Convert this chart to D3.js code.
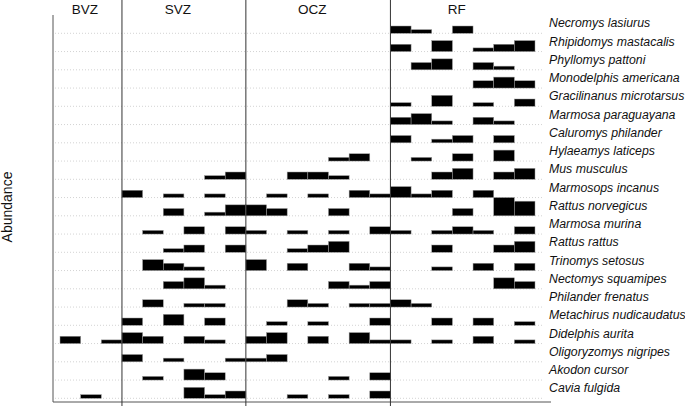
<!DOCTYPE html>
<html>
<head>
<meta charset="utf-8">
<script src="https://cdn.jsdelivr.net/npm/d3@7"></script>
<style>
  body { margin: 0; background: #fff; }
  svg { display: block; font-family: "Liberation Sans", Arial, sans-serif; }
  .grid { stroke: #c8c8c8; stroke-dasharray: 1,2; stroke-width: 0.8; }
  .species_label { font-style: italic; font-size: 12.3px; fill: #111; }
  .zone_label { font-size: 13.5px; fill: #111; text-anchor: middle; }
</style>
</head>
<body>
<div class="chart"></div>
<script>
const species = [
  "Necromys lasiurus", "Rhipidomys mastacalis", "Phyllomys pattoni", "Monodelphis americana",
  "Gracilinanus microtarsus", "Marmosa paraguayana", "Caluromys philander", "Hylaeamys laticeps",
  "Mus musculus", "Marmosops incanus", "Rattus norvegicus", "Marmosa murina", "Rattus rattus",
  "Trinomys setosus", "Nectomys squamipes", "Philander frenatus", "Metachirus nudicaudatus",
  "Didelphis aurita", "Oligoryzomys nigripes", "Akodon cursor", "Cavia fulgida"
]

const zones = ["BVZ", "SVZ", "OCZ", "RF"]
const zoneSites = [3, 6, 7, 7]

// abundance per site (columns: BVZ 3 | SVZ 6 | OCZ 7 | RF 7)
const abundance = [
  [0,0,0, 0,0,0,0,0,0, 0,0,0,0,0,0,0, 2,1,0,2,0,0,0],
  [0,0,0, 0,0,0,0,0,0, 0,0,0,0,0,0,0, 2,0,3,0,1,2,3],
  [0,0,0, 0,0,0,0,0,0, 0,0,0,0,0,0,0, 0,2,3,0,2,1,0],
  [0,0,0, 0,0,0,0,0,0, 0,0,0,0,0,0,0, 0,0,0,0,2,3,2],
  [0,0,0, 0,0,0,0,0,0, 0,0,0,0,0,0,0, 1,0,3,0,1,0,2],
  [0,0,0, 0,0,0,0,0,0, 0,0,0,0,0,0,0, 2,3,1,0,2,1,0],
  [0,0,0, 0,0,0,0,0,0, 0,0,0,0,0,0,0, 2,0,1,2,0,2,0],
  [0,0,0, 0,0,0,0,0,0, 0,0,0,0,1,2,0, 0,1,0,2,0,3,0],
  [0,0,0, 0,0,0,0,1,2, 0,0,2,2,1,0,0, 0,0,2,3,0,2,3],
  [0,0,0, 2,0,1,0,1,0, 0,1,0,1,0,2,1, 3,1,2,0,2,0,0],
  [0,0,0, 0,0,2,0,1,3, 3,2,0,0,2,0,0, 0,0,0,2,0,5,4],
  [0,0,0, 0,1,0,2,0,2, 1,0,1,0,1,0,2, 1,0,1,2,1,0,2],
  [0,0,0, 0,0,1,2,0,2, 0,0,1,2,3,0,0, 0,0,2,0,0,2,3],
  [0,0,0, 0,3,2,1,0,0, 3,0,2,0,0,2,1, 0,0,1,0,2,0,2],
  [0,0,0, 0,0,2,3,1,0, 0,0,0,0,2,1,2, 0,0,0,0,0,3,2],
  [0,0,0, 0,2,0,1,1,0, 0,0,2,1,0,1,1, 2,1,0,0,0,0,0],
  [0,0,0, 2,0,3,0,2,0, 0,1,0,1,0,0,2, 0,0,2,0,2,0,1],
  [2,0,1, 3,2,0,2,1,0, 2,3,0,2,0,3,1, 1,0,1,0,2,0,1],
  [0,0,0, 2,0,1,0,0,1, 1,2,0,0,0,0,0, 0,0,0,0,0,0,0],
  [0,0,0, 0,1,0,3,2,0, 0,0,0,0,1,0,2, 0,0,0,0,0,0,0],
  [0,1,0, 0,0,0,3,1,2, 0,0,1,0,1,0,2, 0,0,0,0,0,0,0]
]

const maxAbundance = 5

function drawChart() {

    let dimensions = {
        width: 685,
        height: 406,
        plotLeft: 53,
        plotBottom: 402,
        gridRight: 542,
        labelX: 549,
    }

    // one entry per site, tagged with its zone
    const sites = []
    zones.forEach((z, i) => {
        for (let k = 0; k < zoneSites[i]; k++) sites.push({ zone: z, id: z + (k + 1) })
    })

    const cells = []
    abundance.forEach((row, r) => {
        row.forEach((v, c) => {
            if (v > 0) cells.push({ species: species[r], site: sites[c].id, value: v })
        })
    })

    const xScale = d3.scaleBand()
        .domain(sites.map(d => d.id))
        .range([60, 535])

    const yScale = d3.scaleBand()
        .domain(species)
        .range([15.05, 398.3])

    const hScale = d3.scaleLinear()
        .domain([0, maxAbundance])
        .range([0, yScale.bandwidth()])

    const baseline = d => yScale(d) + yScale.bandwidth()

    const wrapper = d3.select(".chart")
        .append("svg")
        .attr("width", dimensions.width)
        .attr("height", dimensions.height)

    const bounds = wrapper.append("g")

    // dotted row baselines
    bounds.selectAll(".grid")
        .data(species)
        .join("line")
        .attr("class", "grid")
        .attr("x1", dimensions.plotLeft + 2)
        .attr("x2", dimensions.gridRight)
        .attr("y1", d => baseline(d))
        .attr("y2", d => baseline(d))

    // bars sitting on each row baseline
    bounds.selectAll(".bar")
        .data(cells)
        .join("rect")
        .attr("class", "bar")
        .attr("x", d => xScale(d.site))
        .attr("width", xScale.bandwidth())
        .attr("y", d => baseline(d.species) - hScale(d.value))
        .attr("height", d => hScale(d.value))
        .attr("fill", "#000")
        .attr("stroke", "#9a9a9a")
        .attr("stroke-width", 0.5)

    // axes
    bounds.append("line")
        .attr("x1", dimensions.plotLeft).attr("x2", dimensions.plotLeft)
        .attr("y1", 15).attr("y2", dimensions.plotBottom)
        .attr("stroke", "#555").attr("stroke-width", 1)

    bounds.append("line")
        .attr("x1", dimensions.plotLeft).attr("x2", 551)
        .attr("y1", dimensions.plotBottom).attr("y2", dimensions.plotBottom)
        .attr("stroke", "#555").attr("stroke-width", 1)

    // zone separators
    const zoneStarts = zones.map((z, i) => sites.find(s => s.zone == z).id)

    bounds.selectAll(".zone_line")
        .data(zoneStarts.slice(1))
        .join("line")
        .attr("class", "zone_line")
        .attr("x1", d => xScale(d))
        .attr("x2", d => xScale(d))
        .attr("y1", 0)
        .attr("y2", dimensions.height)
        .attr("stroke", "#333")
        .attr("stroke-width", 1)

    bounds.selectAll(".zone_label")
        .data(zones)
        .join("text")
        .attr("class", "zone_label")
        .text(d => d)
        .attr("x", (d, i) => {
            const ids = sites.filter(s => s.zone == d).map(s => s.id)
            return (xScale(ids[0]) + xScale(ids[ids.length - 1]) + xScale.bandwidth()) / 2 - 6
        })
        .attr("y", 13.5)

    bounds.selectAll(".species_label")
        .data(species)
        .join("text")
        .attr("class", "species_label")
        .text(d => d)
        .attr("x", dimensions.labelX)
        .attr("y", d => baseline(d) - 6)

    bounds.append("text")
        .text("Abundance")
        .attr("transform", "translate(12, 207) rotate(-90)")
        .attr("text-anchor", "middle")
        .style("font-size", "14px")
        .style("fill", "#111")
}

drawChart()
</script>
</body>
</html>
